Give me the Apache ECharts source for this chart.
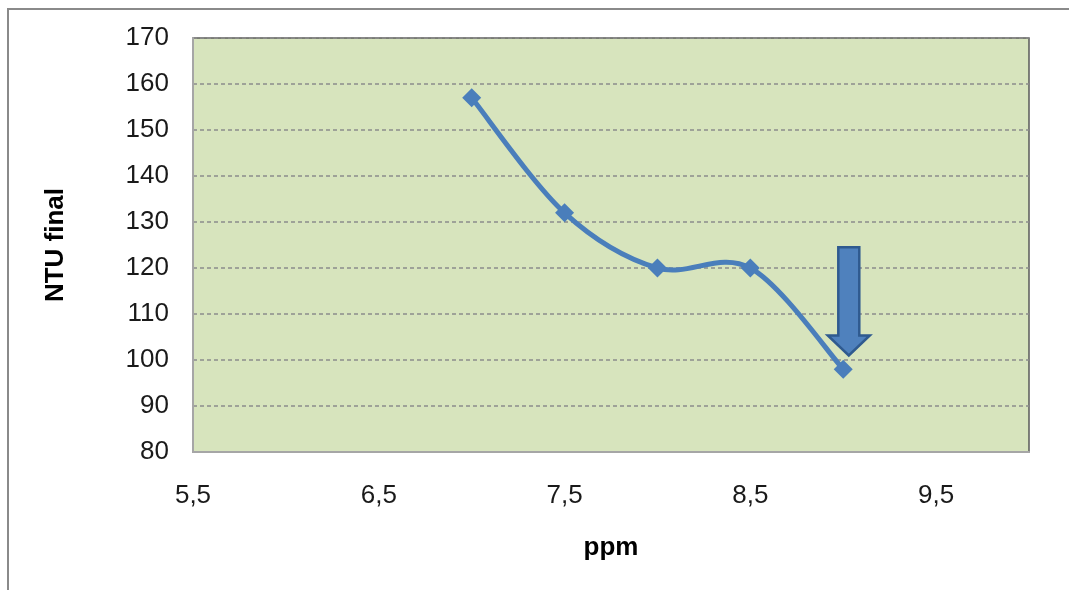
<!DOCTYPE html>
<html>
<head>
<meta charset="utf-8">
<script src="https://cdn.jsdelivr.net/npm/echarts@6/dist/echarts.min.js"></script>
<style>
html,body{margin:0;padding:0;background:#fff;}
#chart{width:1069px;height:590px;}
</style>
</head>
<body>
<div id="chart"></div>
<script>
// Data
const ppm = [7, 7.5, 8, 8.5, 9];
const ntuFinal = [157, 132, 120, 120, 98];
const xTickLabels = ['5,5', '6,5', '7,5', '8,5', '9,5'];
// Arrow annotation (data coordinates)
const arrowX = 9.03;
const arrowTop = 124.5;
const arrowTip = 101;

const chart = echarts.init(document.getElementById('chart'), null, {renderer: 'canvas'});
const font = '"Liberation Sans", Arial, sans-serif';
const blue = '#4a7ebb';
const points = ppm.map((x, i) => [x, ntuFinal[i]]);

// Smoothed curve (Catmull-Rom style Bezier, like a spreadsheet smoothed line)
function renderCurve(params, api) {
  if (params.dataIndex !== 0) return;
  const p = points.map(d => api.coord(d));
  let d = 'M' + p[0][0] + ' ' + p[0][1];
  for (let i = 0; i < p.length - 1; i++) {
    const p0 = p[i - 1] || p[i];
    const p1 = p[i];
    const p2 = p[i + 1];
    const p3 = p[i + 2] || p[i + 1];
    const c1 = [p1[0] + (p2[0] - p0[0]) / 6, p1[1] + (p2[1] - p0[1]) / 6];
    const c2 = [p2[0] - (p3[0] - p1[0]) / 6, p2[1] - (p3[1] - p1[1]) / 6];
    d += ' C' + c1[0] + ' ' + c1[1] + ' ' + c2[0] + ' ' + c2[1] + ' ' + p2[0] + ' ' + p2[1];
  }
  return {
    type: 'path',
    shape: {pathData: d},
    style: {fill: 'none', stroke: blue, lineWidth: 5, lineJoin: 'round', lineCap: 'round'}
  };
}

chart.setOption({
  backgroundColor: '#ffffff',
  animation: false,
  grid: {
    left: 193, top: 38, right: 40, bottom: 138,
    show: true, backgroundColor: '#d7e4bd', borderColor: '#5a5a5a', borderWidth: 1.5
  },
  xAxis: {
    type: 'value', min: 5.5, max: 10, interval: 0.5,
    name: 'ppm', nameLocation: 'middle', nameGap: 83,
    nameTextStyle: {fontFamily: font, fontSize: 26, fontWeight: 'bold', color: '#000', verticalAlign: 'top'},
    axisLine: {show: true, lineStyle: {color: '#a6a6a6', width: 2}},
    axisTick: {show: false},
    splitLine: {show: false},
    axisLabel: {
      margin: 31, fontFamily: font, fontSize: 26, color: '#1a1a1a',
      formatter: function (v) {
        const s = String(v).replace('.', ',');
        return xTickLabels.indexOf(s) >= 0 ? s : '';
      }
    }
  },
  yAxis: {
    type: 'value', min: 80, max: 170, interval: 10,
    name: 'NTU final', nameLocation: 'middle', nameGap: 124, nameRotate: 90,
    nameTextStyle: {fontFamily: font, fontSize: 26, fontWeight: 'bold', color: '#000'},
    axisLine: {show: true, lineStyle: {color: '#a6a6a6', width: 2}},
    axisTick: {show: false},
    splitLine: {show: true, lineStyle: {color: '#8c8c8c', type: [4, 3], width: 1.5}},
    axisLabel: {margin: 24, fontFamily: font, fontSize: 26, color: '#1a1a1a'}
  },
  series: [
    {
      type: 'custom',
      data: points,
      renderItem: renderCurve,
      clip: false,
      z: 3
    },
    {
      type: 'scatter',
      data: points,
      symbol: 'diamond',
      symbolSize: 19,
      itemStyle: {color: blue, opacity: 1},
      z: 4
    }
  ]
});

// Arrow and outer border drawn via graphic, positioned through the axes
const pTop = chart.convertToPixel({gridIndex: 0}, [arrowX, arrowTop]);
const pTip = chart.convertToPixel({gridIndex: 0}, [arrowX, arrowTip]);
const cx = pTop[0];
const shaftW = 10.5, headW = 21, headH = 20;
const headStart = pTip[1] - headH;
chart.setOption({
  graphic: [
    {
      type: 'rect', shape: {x: 8, y: 9, width: 1200, height: 800},
      style: {fill: 'none', stroke: '#8a8a8a', lineWidth: 2}, z: 10, silent: true
    },
    {
      type: 'polygon',
      shape: {points: [
        [cx - shaftW, pTop[1]], [cx + shaftW, pTop[1]], [cx + shaftW, headStart],
        [cx + headW, headStart], [cx, pTip[1]], [cx - headW, headStart], [cx - shaftW, headStart]
      ]},
      style: {fill: '#4f81bd', stroke: '#2f5a8f', lineWidth: 2.5},
      z: 20, silent: true
    }
  ]
});
</script>
</body>
</html>
